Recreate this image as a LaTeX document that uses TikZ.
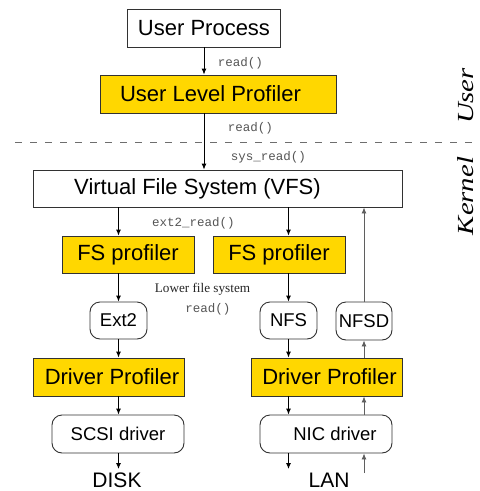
\documentclass[tikz,border=0pt]{standalone}
\usepackage{fontspec}
\setmainfont{Liberation Sans}
\newfontfamily\codefont{Liberation Mono}
\newfontfamily\timesfont{Liberation Serif}
\usetikzlibrary{arrows.meta}
\definecolor{profyellow}{RGB}{255,215,0}
\definecolor{edgegray}{RGB}{50,50,50}
\definecolor{upgray}{RGB}{95,95,95}
\definecolor{codegray}{RGB}{85,85,85}
\definecolor{dashgray}{RGB}{110,110,110}
\begin{document}
\begin{tikzpicture}[x=1pt,y=-1pt,
 plainbox/.style={draw=edgegray, line width=0.9pt, fill=white, inner sep=0pt, font=\fontsize{22}{24}\selectfont},
 profbox/.style={plainbox, fill=profyellow},
 roundbox/.style={draw=edgegray, line width=0.9pt, fill=white, rounded corners=10pt, inner sep=0pt, font=\fontsize{18.5}{21}\selectfont},
 downarr/.style={-{Latex[length=6pt,width=5pt]}, line width=0.9pt, black},
 uparr/.style={-{Latex[length=6pt,width=5pt]}, line width=0.9pt, upgray},
 codelbl/.style={font=\codefont\fontsize{12.5}{14}\selectfont, text=codegray, inner sep=0pt},
 sidelbl/.style={font=\timesfont\itshape\fontsize{23}{26}\selectfont, inner sep=0pt, rotate=90, anchor=base},
 endlbl/.style={font=\fontsize{21}{24}\selectfont, inner sep=0pt, text depth=0pt, anchor=base},
]
\fill[white] (0,0) rectangle (480,491);
\useasboundingbox (0,0) rectangle (480,491);

% boxes
\node[plainbox, minimum width=153pt, minimum height=38pt] (uproc) at (204,28) {User Process};
\node[profbox, minimum width=236pt, minimum height=38pt] (ulp) at (218,94) {\hspace*{-15pt}User Level Profiler};
\node[plainbox, minimum width=369pt, minimum height=37pt] (vfs) at (217.5,188.5) {\hspace*{-40pt}Virtual File System (VFS)};
\node[profbox, minimum width=132pt, minimum height=37pt] (fs1) at (128,254.5) {FS profiler};
\node[profbox, minimum width=132pt, minimum height=37pt] (fs2) at (279,254.5) {FS profiler};
\node[roundbox, minimum width=57pt, minimum height=37pt] (ext2) at (118.5,320.5) {Ext2};
\node[roundbox, minimum width=57pt, minimum height=37pt] (nfs) at (288.5,320.5) {NFS};
\node[roundbox, minimum width=56pt, minimum height=38pt] (nfsd) at (364,321) {NFSD};
\node[profbox, minimum width=151pt, minimum height=38pt] (dp1) at (108.5,377) {Driver Profiler\hspace*{-7pt}};
\node[profbox, minimum width=151pt, minimum height=38pt] (dp2) at (326.5,377) {Driver Profiler\hspace*{-6pt}};
\node[roundbox, minimum width=132pt, minimum height=38pt] (scsi) at (118,434) {SCSI driver};
\node[roundbox, minimum width=132pt, minimum height=38pt] (nic) at (326,434) {NIC driver\hspace*{-18pt}};
\node[endlbl] (disk) at (117,487) {DISK};
\node[endlbl] (lan) at (329,487) {LAN};

% labels
\node[codelbl] (l1) at (240.5,63) {read()};
\node[codelbl] (l2) at (250.5,128) {read()};
\node[codelbl] (l3) at (268.5,157) {sys\_read()};
\node[codelbl] (l4) at (193.5,223) {ext2\_read()};
\node[font=\timesfont\fontsize{13.2}{15}\selectfont, inner sep=0pt, text=black!85] (l5) at (202.5,289) {Lower file system};
\node[codelbl] (l6) at (208,309) {read()};
\node[sidelbl] (user) at (473,96) {\scalebox{1.25}[1]{User}};
\node[sidelbl] (kernel) at (473,196) {\scalebox{1.25}[1]{Kernel}};

% dashed separator
\coordinate (dl) at (15,142);
\coordinate (dr) at (480,142);
\draw[dashgray, line width=0.9pt, dash pattern=on 7pt off 8pt] (dl) -- (dr);

% down arrows
\draw[downarr] (uproc.south) -- (uproc.south |- ulp.north);
\draw[downarr] (uproc.south |- ulp.south) -- (uproc.south |- vfs.north);
\draw[downarr] (vfs.south -| ext2.north) -- (fs1.north -| ext2.north);
\draw[downarr] (vfs.south -| nfs.north) -- (fs2.north -| nfs.north);
\draw[downarr] (fs1.south -| ext2.north) -- (ext2.north);
\draw[downarr] (fs2.south -| nfs.north) -- (nfs.north);
\draw[downarr] (ext2.south) -- (dp1.north -| ext2.south);
\draw[downarr] (nfs.south) -- (dp2.north -| nfs.south);
\draw[downarr] (dp1.south -| ext2.south) -- (scsi.north -| ext2.south);
\draw[downarr] (dp2.south -| nfs.south) -- (nic.north -| nfs.south);
\coordinate (diskend) at (118.5,469);
\coordinate (lanend) at (288.5,469);
\draw[downarr] (scsi.south -| diskend) -- (diskend);
\draw[downarr] (nic.south -| lanend) -- (lanend);

% up arrows
\coordinate (lanstart) at (364,473);
\draw[uparr] (lanstart) -- (nic.south -| lanstart);
\draw[uparr] (nic.north -| lanstart) -- (dp2.south -| lanstart);
\draw[uparr] (dp2.north -| lanstart) -- (nfsd.south);
\draw[uparr] (nfsd.north) -- (vfs.south -| nfsd.north);
\end{tikzpicture}
\end{document}
